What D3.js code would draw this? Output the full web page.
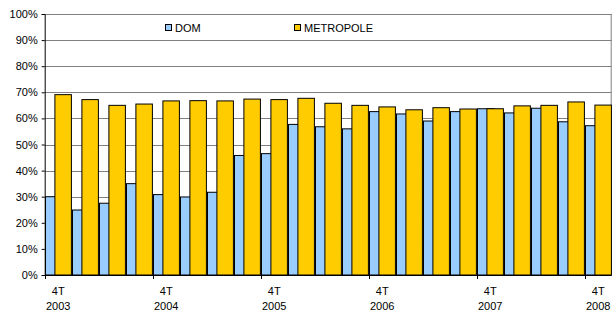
<!DOCTYPE html>
<html>
<head>
<meta charset="utf-8">
<script src="https://cdn.jsdelivr.net/npm/d3@7"></script>
<style>
  body { margin: 0; background: #fff; }
  svg { font-family: "Liberation Sans", Arial, sans-serif; }
</style>
</head>
<body>
<div id="chart"></div>
<script>
// quarters, 4T 2003 .. 4T 2008
var quarters = ['4T 2003', '1T 2004', '2T 2004', '3T 2004', '4T 2004', '1T 2005', '2T 2005',
  '3T 2005', '4T 2005', '1T 2006', '2T 2006', '3T 2006', '4T 2006', '1T 2007', '2T 2007',
  '3T 2007', '4T 2007', '1T 2008', '2T 2008', '3T 2008', '4T 2008'];

var dom = [30.0, 24.9, 27.5, 35.0, 30.8, 29.9, 31.7, 45.8, 46.5, 57.7, 56.8,
  56.0, 62.6, 61.7, 59.0, 62.6, 63.7, 62.1, 63.9, 58.7, 57.2];
var metropole = [69.1, 67.2, 65.0, 65.5, 66.7, 66.8, 66.7, 67.4, 67.2, 67.7, 65.8,
  65.0, 64.4, 63.3, 64.1, 63.6, 63.7, 64.8, 65.0, 66.3, 65.1];

var yTicks = [0, 10, 20, 30, 40, 50, 60, 70, 80, 90, 100];

var svgWidth = 612;
var svgHeight = 313;
// note: "top" is a reserved window property, so use plot* names
var plotLeft = 44.7, plotRight = 611.7, plotTop = 14, plotBottom = 275;
var barWidth = 16.5;

var svg = d3.select('#chart')
  .append('svg')
  .attr('width', svgWidth)
  .attr('height', svgHeight);

var x = d3.scaleBand()
  .domain(d3.range(quarters.length))
  .range([plotLeft, plotRight])
  .padding(0);

var y = d3.scaleLinear()
  .domain([0, 100])
  .range([plotBottom, plotTop]);

// gridlines
svg.append('g')
  .selectAll('line')
  .data(yTicks.slice(1))
  .enter()
  .append('line')
  .attr('x1', plotLeft)
  .attr('x2', plotRight)
  .attr('y1', function(d) { return Math.round(y(d)) + 0.5; })
  .attr('y2', function(d) { return Math.round(y(d)) + 0.5; })
  .attr('stroke', '#808080')
  .attr('stroke-width', 1);

// right border of plot area
svg.append('line')
  .attr('x1', plotRight - 0.5).attr('x2', plotRight - 0.5)
  .attr('y1', y(100)).attr('y2', y(0))
  .attr('stroke', '#808080');

// DOM bars (drawn first, METROPOLE overlaps them)
svg.append('g')
  .selectAll('rect')
  .data(dom)
  .enter()
  .append('rect')
  .attr('x', function(d, i) { return x(i) + 0.8; })
  .attr('y', function(d) { return y(d); })
  .attr('width', barWidth)
  .attr('height', function(d) { return y(0) - y(d); })
  .attr('fill', '#99CCFF')
  .attr('stroke', '#000')
  .attr('stroke-width', 1);

svg.append('g')
  .selectAll('rect')
  .data(metropole)
  .enter()
  .append('rect')
  .attr('x', function(d, i) { return x(i) + x.bandwidth() - barWidth - 0.3; })
  .attr('y', function(d) { return y(d); })
  .attr('width', barWidth)
  .attr('height', function(d) { return y(0) - y(d); })
  .attr('fill', '#FFCC00')
  .attr('stroke', '#000')
  .attr('stroke-width', 1);

// y axis
var yAxis = d3.axisLeft(y)
  .tickValues(yTicks)
  .tickSize(3)
  .tickPadding(4)
  .tickFormat(function(d) { return d + '%'; });

svg.append('g')
  .attr('transform', 'translate(' + plotLeft + ',0)')
  .call(yAxis)
  .call(function(g) {
    g.attr('font-family', null).attr('font-size', 11);
    g.selectAll('text').attr('fill', '#000');
  });

// x axis: line, ticks every 4 quarters, labels in two lines
var xg = svg.append('g');
xg.append('line')
  .attr('x1', plotLeft).attr('x2', plotRight)
  .attr('y1', plotBottom + 0.5).attr('y2', plotBottom + 0.5)
  .attr('stroke', '#000');

var shown = quarters.map(function(d, i) { return i; })
  .filter(function(i) { return i % 4 === 0; });

xg.selectAll('.xtick')
  .data(shown)
  .enter()
  .append('line')
  .attr('class', 'xtick')
  .attr('x1', function(i) { return Math.round(x(i)) + 0.5; })
  .attr('x2', function(i) { return Math.round(x(i)) + 0.5; })
  .attr('y1', plotBottom)
  .attr('y2', plotBottom + 4)
  .attr('stroke', '#000');

var lbl = xg.selectAll('.lbl')
  .data(shown)
  .enter()
  .append('text')
  .attr('class', 'lbl')
  .attr('text-anchor', 'middle')
  .attr('font-size', 11)
  .attr('fill', '#000');

lbl.append('tspan')
  .attr('x', function(i) { return x(i) + x.bandwidth() / 2; })
  .attr('y', 295)
  .text(function(i) { return quarters[i].split(' ')[0]; });
lbl.append('tspan')
  .attr('x', function(i) { return x(i) + x.bandwidth() / 2; })
  .attr('y', 310)
  .text(function(i) { return quarters[i].split(' ')[1]; });

// legend
var legendData = [
  { label: 'DOM', color: '#99CCFF', x: 165 },
  { label: 'METROPOLE', color: '#FFCC00', x: 294 }
];

var legend = svg.selectAll('.legend')
  .data(legendData)
  .enter()
  .append('g')
  .attr('class', 'legend')
  .attr('transform', function(d) { return 'translate(' + d.x + ',24)'; });

legend.append('rect')
  .attr('x', 0.5).attr('y', 0.5)
  .attr('width', 6).attr('height', 6)
  .attr('fill', function(d) { return d.color; })
  .attr('stroke', '#000');

legend.append('text')
  .attr('x', 10)
  .attr('y', 7.5)
  .attr('font-size', 11)
  .text(function(d) { return d.label; });
</script>
</body>
</html>
